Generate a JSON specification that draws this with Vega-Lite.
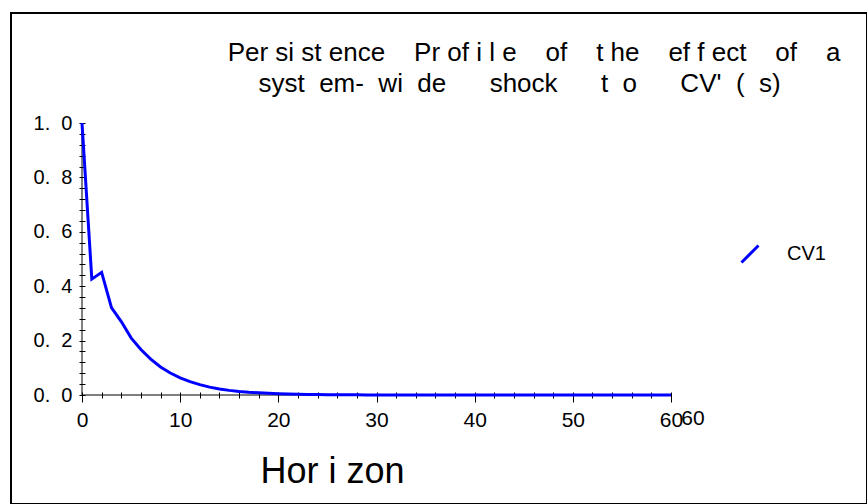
{
  "$schema": "https://vega.github.io/schema/vega-lite/v6.json",
  "autosize": {"type": "none"},
  "padding": {"left": 11, "top": 13, "right": 0, "bottom": 0},
  "width": 856,
  "height": 491,
  "background": "white",
  "config": {
    "view": {"stroke": "black", "strokeWidth": 2},
    "font": "Liberation Sans"
  },
  "title": {
    "text": ["Per si st ence \u00a0\u00a0\u00a0Pr of i l e \u00a0\u00a0\u00a0of \u00a0\u00a0\u00a0t he \u00a0\u00a0\u00a0ef f ect \u00a0\u00a0\u00a0of \u00a0\u00a0\u00a0a", "syst\u00a0 em-\u00a0 wi\u00a0 de \u00a0\u00a0\u00a0\u00a0\u00a0shock \u00a0\u00a0\u00a0\u00a0\u00a0t\u00a0 o \u00a0\u00a0\u00a0\u00a0\u00a0CV'\u00a0 (\u00a0 s)\u00a0\u00a0\u00a0\u00a0\u200b"],
    "fontSize": 26,
    "fontWeight": "normal",
    "font": "Liberation Sans",
    "color": "black",
    "anchor": "middle",
    "frame": "group",
    "dx": 95,
    "dy": 84,
    "lineHeight": 31,
    "offset": 0,
    "baseline": "top"
  },
  "resolve": {"axis": {"x": "independent", "y": "independent"}},
  "layer": [
    {
      "data": {"values": [{"a": 1}]},
      "mark": {"type": "rule", "color": "black", "strokeWidth": 1},
      "encoding": {
        "x": {"datum": 0, "type": "quantitative", "axis": null},
        "y": {"datum": 0, "type": "quantitative", "axis": null},
        "y2": {"datum": 1}
      }
    },
    {
      "data": {"values": [{"a": 1}]},
      "mark": {"type": "rule", "color": "black", "strokeWidth": 1},
      "encoding": {
        "y": {"datum": 0, "type": "quantitative", "axis": null},
        "x": {"datum": 0, "type": "quantitative", "axis": null},
        "x2": {"datum": 60}
      }
    },
    {
      "data": {
        "values": [
          {"h": 0, "v": 1.0, "series": "CV1"},
          {"h": 1, "v": 0.426, "series": "CV1"},
          {"h": 2, "v": 0.451, "series": "CV1"},
          {"h": 3, "v": 0.321, "series": "CV1"},
          {"h": 4, "v": 0.270, "series": "CV1"},
          {"h": 5, "v": 0.210, "series": "CV1"},
          {"h": 6, "v": 0.167, "series": "CV1"},
          {"h": 7, "v": 0.132, "series": "CV1"},
          {"h": 8, "v": 0.103, "series": "CV1"},
          {"h": 9, "v": 0.081, "series": "CV1"},
          {"h": 10, "v": 0.063, "series": "CV1"},
          {"h": 11, "v": 0.049, "series": "CV1"},
          {"h": 12, "v": 0.038, "series": "CV1"},
          {"h": 13, "v": 0.029, "series": "CV1"},
          {"h": 14, "v": 0.022, "series": "CV1"},
          {"h": 15, "v": 0.017, "series": "CV1"},
          {"h": 16, "v": 0.013, "series": "CV1"},
          {"h": 17, "v": 0.010, "series": "CV1"},
          {"h": 18, "v": 0.008, "series": "CV1"},
          {"h": 19, "v": 0.006, "series": "CV1"},
          {"h": 20, "v": 0.0045, "series": "CV1"},
          {"h": 21, "v": 0.0035, "series": "CV1"},
          {"h": 22, "v": 0.0027, "series": "CV1"},
          {"h": 23, "v": 0.0021, "series": "CV1"},
          {"h": 24, "v": 0.0016, "series": "CV1"},
          {"h": 25, "v": 0.0012, "series": "CV1"},
          {"h": 26, "v": 0.0009, "series": "CV1"},
          {"h": 27, "v": 0.0007, "series": "CV1"},
          {"h": 28, "v": 0.0005, "series": "CV1"},
          {"h": 29, "v": 0.0004, "series": "CV1"},
          {"h": 30, "v": 0.0003, "series": "CV1"},
          {"h": 31, "v": 0.0002, "series": "CV1"},
          {"h": 32, "v": 0.00016, "series": "CV1"},
          {"h": 33, "v": 0.00012, "series": "CV1"},
          {"h": 34, "v": 0.0001, "series": "CV1"},
          {"h": 35, "v": 0.00008, "series": "CV1"},
          {"h": 36, "v": 0.00006, "series": "CV1"},
          {"h": 37, "v": 0.00005, "series": "CV1"},
          {"h": 38, "v": 0.00004, "series": "CV1"},
          {"h": 39, "v": 0.00003, "series": "CV1"},
          {"h": 40, "v": 0.00002, "series": "CV1"},
          {"h": 41, "v": 0.00002, "series": "CV1"},
          {"h": 42, "v": 0.00001, "series": "CV1"},
          {"h": 43, "v": 0.00001, "series": "CV1"},
          {"h": 44, "v": 0.00001, "series": "CV1"},
          {"h": 45, "v": 0.00001, "series": "CV1"},
          {"h": 46, "v": 0, "series": "CV1"},
          {"h": 47, "v": 0, "series": "CV1"},
          {"h": 48, "v": 0, "series": "CV1"},
          {"h": 49, "v": 0, "series": "CV1"},
          {"h": 50, "v": 0, "series": "CV1"},
          {"h": 51, "v": 0, "series": "CV1"},
          {"h": 52, "v": 0, "series": "CV1"},
          {"h": 53, "v": 0, "series": "CV1"},
          {"h": 54, "v": 0, "series": "CV1"},
          {"h": 55, "v": 0, "series": "CV1"},
          {"h": 56, "v": 0, "series": "CV1"},
          {"h": 57, "v": 0, "series": "CV1"},
          {"h": 58, "v": 0, "series": "CV1"},
          {"h": 59, "v": 0, "series": "CV1"},
          {"h": 60, "v": 0, "series": "CV1"}
        ]
      },
      "mark": {"type": "line", "strokeWidth": 3},
      "encoding": {
        "x": {
          "field": "h",
          "type": "quantitative",
          "scale": {"domain": [0, 60], "range": [71, 660], "nice": false, "zero": false},
          "axis": {
            "orient": "bottom",
            "offset": -112,
            "domain": false,
            "grid": false,
            "values": [0, 2, 4, 6, 8, 10, 12, 14, 16, 18, 20, 22, 24, 26, 28, 30, 32, 34, 36, 38, 40, 42, 44, 46, 48, 50, 52, 54, 56, 58, 60],
            "tickSize": {"condition": {"test": "datum.value % 10 === 0", "value": 10}, "value": 6},
            "tickColor": "black",
            "tickWidth": 1,
            "labelExpr": "datum.value % 10 === 0 ? datum.label : ''",
            "labelFontSize": 21,
            "labelFont": "Liberation Sans",
            "labelColor": "black",
            "labelPadding": 7,
            "labelFlush": false,
            "labelOverlap": false,
            "labelBound": false,
            "title": "Hor i zon",
            "titleFontSize": 36,
            "titleFont": "Liberation Sans",
            "titleFontWeight": "normal",
            "titleColor": "black",
            "titleX": 321,
            "titleY": 90,
            "titleBaseline": "alphabetic"
          }
        },
        "y": {
          "field": "v",
          "type": "quantitative",
          "scale": {"domain": [0, 1], "range": [382, 110], "nice": false, "zero": false},
          "axis": {
            "orient": "left",
            "offset": -74,
            "domain": false,
            "grid": false,
            "values": [0, 0.04, 0.08, 0.12, 0.16, 0.2, 0.24, 0.28, 0.32, 0.36, 0.4, 0.44, 0.48, 0.52, 0.56, 0.6, 0.64, 0.68, 0.72, 0.76, 0.8, 0.84, 0.88, 0.92, 0.96, 1.0],
            "tickSize": 6,
            "tickColor": "black",
            "tickWidth": 1,
            "labelExpr": "abs(datum.value * 5 - round(datum.value * 5)) < 0.001 ? replace(format(datum.value, '.1f'), '.', '.\u00a0\u00a0') : ''",
            "labelFontSize": 20,
            "labelFont": "Liberation Sans",
            "labelColor": "black",
            "labelPadding": 7,
            "labelOverlap": false,
            "labelBound": false,
            "title": null
          }
        },
        "color": {
          "field": "series",
          "type": "nominal",
          "scale": {"range": ["#0000ff"]},
          "legend": {
            "title": null,
            "orient": "none",
            "legendX": 729,
            "legendY": 231,
            "symbolType": "M-1,1L1,-1",
            "symbolSize": 289,
            "symbolStrokeWidth": 3,
            "labelFontSize": 20,
            "labelFont": "Liberation Sans",
            "labelColor": "black",
            "labelOffset": 27
          }
        }
      }
    },
    {
      "data": {"values": [{"a": 1}]},
      "mark": {"type": "text", "fontSize": 21, "font": "Liberation Sans", "color": "black", "baseline": "top", "align": "center", "dx": 22, "dy": 13},
      "encoding": {
        "x": {"datum": 60, "type": "quantitative", "axis": null},
        "y": {"datum": 0, "type": "quantitative", "axis": null},
        "text": {"value": "60"}
      }
    }
  ]
}
